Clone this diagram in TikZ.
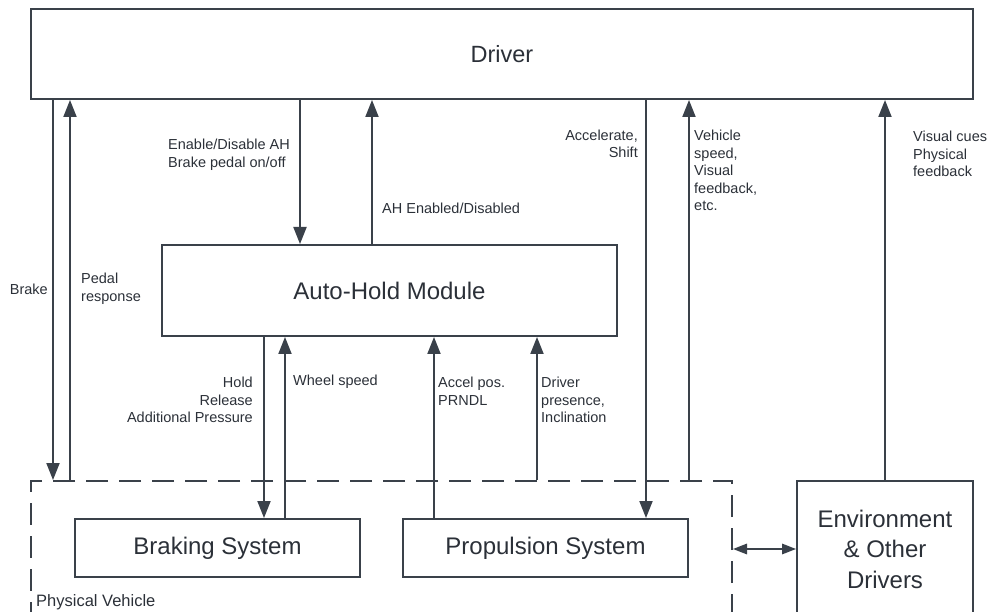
\documentclass[tikz,border=0pt]{standalone}
\usepackage{fontspec}
\setmainfont{Liberation Sans}
\usepackage{tikz}
\usetikzlibrary{arrows.meta, positioning}

\definecolor{lineclr}{HTML}{3A414A}
\definecolor{textclr}{HTML}{2B3038}

\begin{document}
\begin{tikzpicture}[
    x=1pt, y=-1pt,
    box/.style={rectangle, draw=lineclr, line width=2pt, text=textclr, align=center, inner sep=0pt, font=\fontsize{24}{30.5}\selectfont},
    lbl/.style={text=textclr, inner sep=0pt, align=left, font=\fontsize{14.5}{17.5}\selectfont},
    arrow/.style={-{Triangle[width=13pt,length=17pt]}, draw=lineclr, line width=2pt},
    biarrow/.style={{Triangle[width=10.5pt,length=14pt]}-{Triangle[width=10.5pt,length=14pt]}, draw=lineclr, line width=1.6pt}
]
\useasboundingbox (0,0) rectangle (991,612);
\clip (0,0) rectangle (991,612);

% --- Boxes ---
\node[box, font=\fontsize{23.5}{30.5}\selectfont, minimum width=942pt, minimum height=90pt] (driver) at (502,54) {Driver};
\node[box, minimum width=455pt, minimum height=91pt] (ahm) at (389.5,290.5) {Auto-Hold Module};
\node[box, dash pattern=on 22pt off 11pt, minimum width=701pt, minimum height=160pt] (vehicle) at (381.5,561) {};
\node[box, minimum width=285pt, minimum height=58pt] (braking) at (217.5,548) {Braking System};
\node[box, minimum width=285pt, minimum height=58pt] (propulsion) at (545.5,548) {Propulsion System};
\node[box, minimum width=176pt, minimum height=136pt] (env) at (885,549) {Environment\\ \& Other\\ Drivers};
\node[lbl, anchor=west, font=\fontsize{16.5}{19}\selectfont] (vehiclelbl) at (36,602) {Physical Vehicle};

% --- Signal positions ---
\coordinate (xbrake) at (53,0);
\coordinate (xpedal) at (70,0);
\coordinate (xenable) at (300,0);
\coordinate (xstatus) at (372,0);
\coordinate (xaccel) at (646,0);
\coordinate (xspeed) at (689,0);
\coordinate (xhold) at (264,0);
\coordinate (xwheel) at (285,0);
\coordinate (xaccpos) at (434,0);
\coordinate (xpresence) at (537,0);

% --- Driver connections ---
\draw[arrow] (driver.south -| xbrake) -- (vehicle.north -| xbrake);
\draw[arrow] (vehicle.north -| xpedal) -- (driver.south -| xpedal);
\draw[arrow] (driver.south -| xenable) -- (ahm.north -| xenable);
\draw[arrow] (ahm.north -| xstatus) -- (driver.south -| xstatus);
\draw[arrow] (driver.south -| xaccel) -- (propulsion.north -| xaccel);
\draw[arrow] (vehicle.north -| xspeed) -- (driver.south -| xspeed);
\draw[arrow] (env.north) -- (driver.south -| env.north);

% --- Module connections ---
\draw[arrow] (ahm.south -| xhold) -- (braking.north -| xhold);
\draw[arrow] (braking.north -| xwheel) -- (ahm.south -| xwheel);
\draw[arrow] (propulsion.north -| xaccpos) -- (ahm.south -| xaccpos);
\draw[arrow] (vehicle.north -| xpresence) -- (ahm.south -| xpresence);

% --- Vehicle and environment ---
\draw[biarrow] (vehicle.east |- env.west) -- (env.west);

% --- Labels ---
\node[lbl, anchor=east, align=right] (brakelbl) at (48,289) {Brake};
\node[lbl, anchor=west] (pedallbl) at (81,289) {Pedal\\response};
\node[lbl, anchor=west] (enablelbl) at (168,155) {Enable/Disable AH\\Brake pedal on/off};
\node[lbl, anchor=west] (statuslbl) at (382,208) {AH Enabled/Disabled};
\node[lbl, anchor=east, align=right] (accellbl) at (638,144) {Accelerate,\\Shift};
\node[lbl, anchor=west] (speedlbl) at (694,170.5) {Vehicle\\speed,\\Visual\\feedback,\\etc.};
\node[lbl, anchor=west] (cueslbl) at (913,154) {Visual cues\\Physical\\feedback};
\node[lbl, anchor=east, align=right] (holdlbl) at (253,400) {Hold\\Release\\Additional Pressure};
\node[lbl, anchor=west] (wheellbl) at (293,382) {Wheel speed};
\node[lbl, anchor=west] (accposlbl) at (438,391) {Accel pos.\\PRNDL};
\node[lbl, anchor=west] (presencelbl) at (541,400) {Driver\\presence,\\Inclination};

\end{tikzpicture}
\end{document}
